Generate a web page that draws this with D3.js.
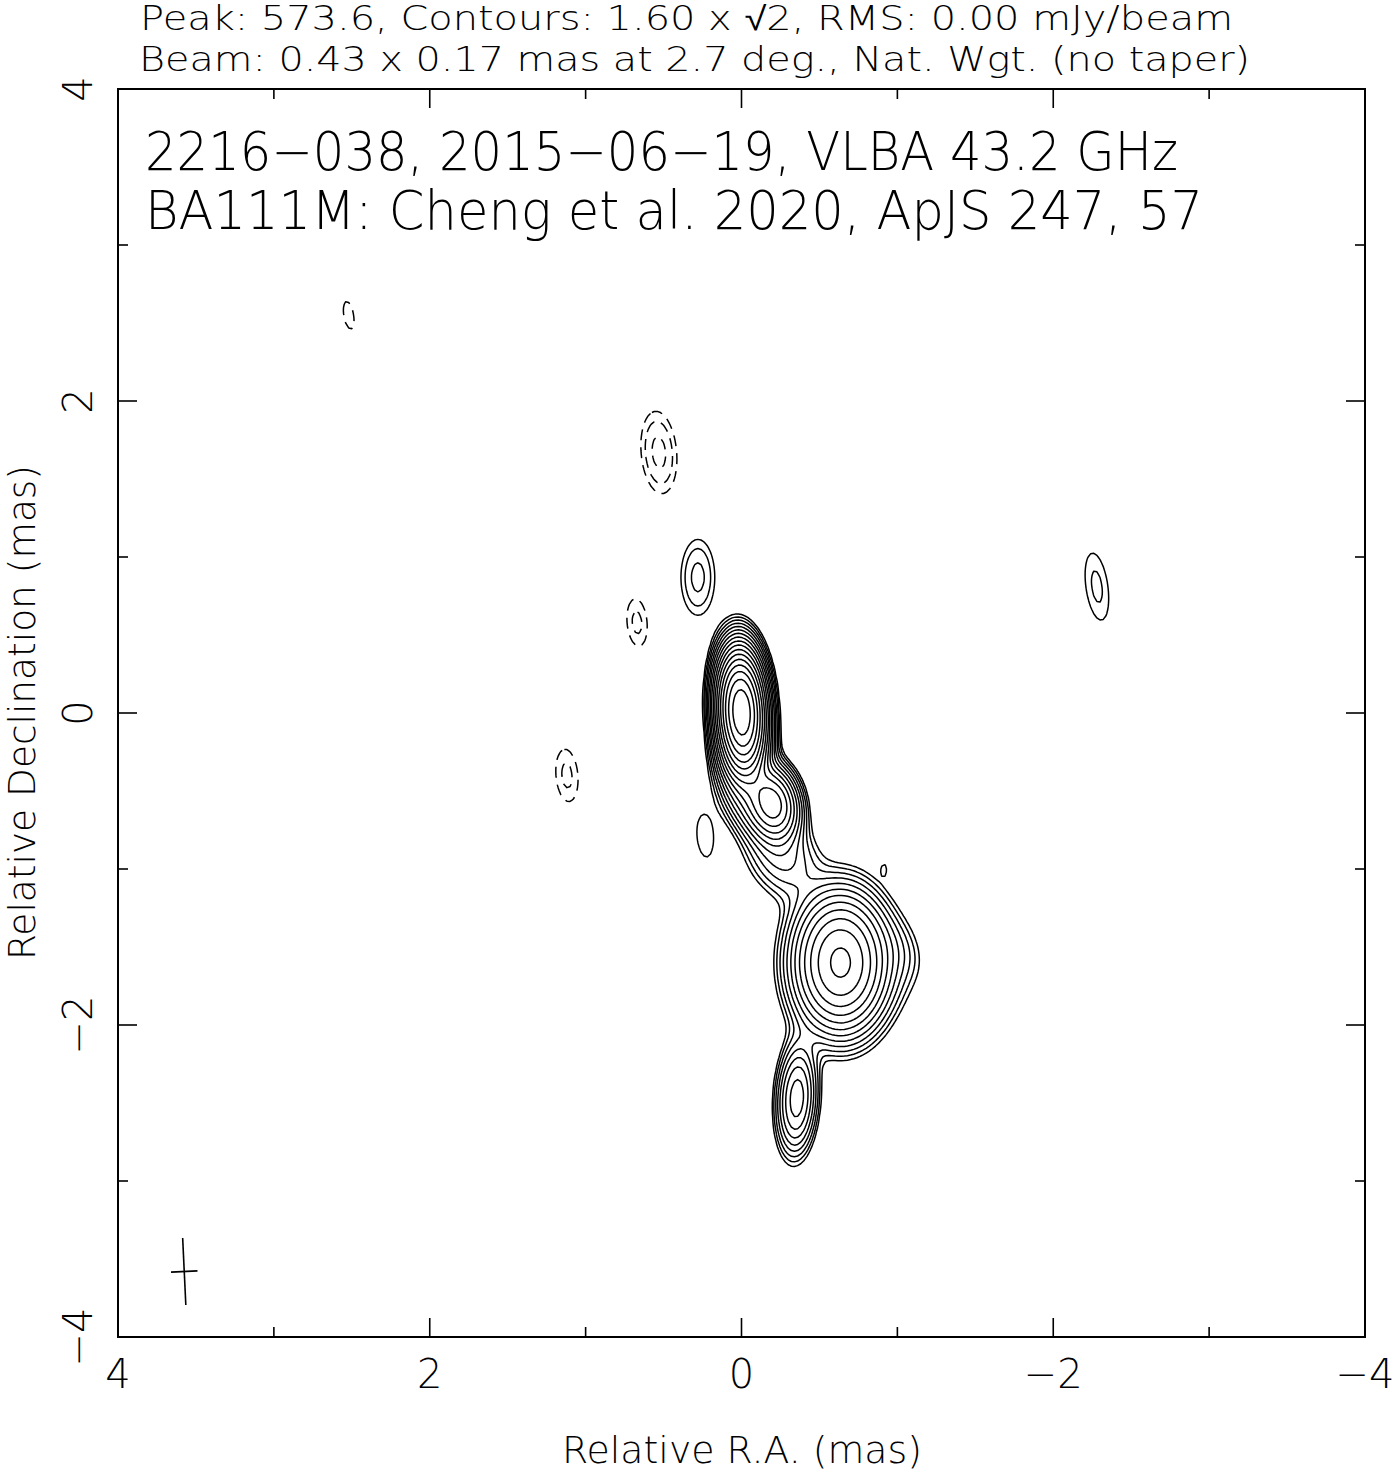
<!DOCTYPE html>
<html><head><meta charset="utf-8">
<script src="https://cdn.jsdelivr.net/npm/d3@7"></script>
<style>
body{margin:0;background:#fff}
text{font-family:"DejaVu Sans",sans-serif;font-weight:200;fill:#000}
</style>
</head><body>
<svg id="c" width="1394" height="1472"></svg>
<script>
// ---------------- data ----------------
const headerLines = ["Peak: 573.6, Contours: 1.60 x \u221A2, RMS: 0.00 mJy/beam",
                     "Beam: 0.43 x 0.17 mas at 2.7 deg., Nat. Wgt. (no taper)"];
const titleLines = ["2216\u2212038, 2015\u221206\u221219, VLBA 43.2 GHz",
                    "BA111M: Cheng et al. 2020, ApJS 247, 57"];
const xLabel = "Relative R.A. (mas)";
const yLabel = "Relative Declination (mas)";
const majorTicks = [4, 2, 0, -2, -4];
const minorTicks = [3, 1, -1, -3];
const tickLabels = ["4", "2", "0", "\u22122", "\u22124"];

// contour levels (mJy/beam): 1.60 x sqrt(2)^n
const posLevels = [1.6, 2.26, 3.2, 4.53, 6.4, 9.05, 12.8, 18.1, 25.6, 36.2, 51.2, 72.4, 102.4, 144.8, 204.8, 289.6, 409.6];
const negLevels = [1.6, 2.26, 3.2];

// image components (restored Gaussians): RA offset, Dec offset (mas), peak (mJy/beam), FWHM major/minor (mas), PA (deg)
const compX    = [0.00, -0.02, -0.04, -0.20, -0.26, -0.635, -1.00, -1.02, -0.355, 0.28, -2.28, 0.235, -0.915, 2.52, 0.53, 0.67, 1.12];
const compY    = [0.01, -0.25, -0.52, -0.58, -0.92, -1.60, -1.50, -1.62, -2.47, 0.87, 0.81, -0.79, -1.00, 2.55, 1.67, 0.58, -0.40];
const compPeak = [548, 30, 14, 60, 7, 79, 1.5, 1.2, 22, 3.6, 2.5, 2.1, 1.68, -1.75, -3.6, -2.5, -2.5];
const compMaj  = [0.43, 0.30, 0.38, 0.30, 0.40, 0.53, 0.35, 0.45, 0.45, 0.45, 0.54, 0.42, 0.10, 0.50, 0.49, 0.38, 0.42];
const compMin  = [0.17, 0.20, 0.22, 0.20, 0.30, 0.36, 0.22, 0.25, 0.16, 0.20, 0.175, 0.16, 0.05, 0.18, 0.21, 0.16, 0.175];
const compPA   = [2.7, 5, 20, 12, 30, 0, 30, 0, -3, 0, 8, 5, 0, 10, 5, 5, 5];

const beamMaj = 0.43, beamMin = 0.17, beamPA = 2.7;
const beamPos = [3.575, -3.58];

// ---------------- layout ----------------
const svg = d3.select("#c");
const L = 118, R = 1365, T = 89, B = 1337;
const xS = d3.scaleLinear().domain([4, -4]).range([L, R]);
const yS = d3.scaleLinear().domain([-4, 4]).range([B, T]);

// ---------------- field ----------------
const step = 0.02, n = Math.round(8 / step) + 1, x0 = -4, y0 = -4;
const vals = new Float64Array(n * n);
const k = 4 * Math.LN2;
for (let c = 0; c < compX.length; c++) {
  const pa = compPA[c] * Math.PI / 180, sp = Math.sin(pa), cp = Math.cos(pa);
  const a = compMaj[c], b = compMin[c];
  for (let j = 0; j < n; j++) {
    const dy = y0 + j * step - compY[c];
    if (Math.abs(dy) > 2.5 * a) continue;
    for (let i = 0; i < n; i++) {
      const dx = x0 + i * step - compX[c];
      if (Math.abs(dx) > 2.5 * a) continue;
      const u = dx * sp + dy * cp, v = dx * cp - dy * sp;
      vals[i + j * n] += compPeak[c] * Math.exp(-k * (u * u / (a * a) + v * v / (b * b)));
    }
  }
}
const negVals = vals.map(v => -v);

const proj = d3.geoTransform({
  point(px, py) { this.stream.point(xS(x0 + (px - 0.5) * step), yS(y0 + (py - 0.5) * step)); }
});
const path = d3.geoPath(proj);

const gC = svg.append("g").attr("fill", "none").attr("stroke", "#000").attr("stroke-width", 1.5)
  .attr("stroke-linejoin", "round");
gC.selectAll("path.pos").data(d3.contours().size([n, n]).thresholds(posLevels)(vals))
  .join("path").attr("class", "pos").attr("d", path);
gC.selectAll("path.neg").data(d3.contours().size([n, n]).thresholds(negLevels)(negVals))
  .join("path").attr("class", "neg").attr("d", path).attr("stroke-dasharray", "11,7");

// ---------------- beam cross ----------------
const bp = beamPA * Math.PI / 180;
const gB = svg.append("g").attr("stroke", "#000").attr("stroke-width", 1.6);
gB.append("line")
  .attr("x1", xS(beamPos[0] + beamMaj / 2 * Math.sin(bp))).attr("y1", yS(beamPos[1] + beamMaj / 2 * Math.cos(bp)))
  .attr("x2", xS(beamPos[0] - beamMaj / 2 * Math.sin(bp))).attr("y2", yS(beamPos[1] - beamMaj / 2 * Math.cos(bp)));
gB.append("line")
  .attr("x1", xS(beamPos[0] + beamMin / 2 * Math.cos(bp))).attr("y1", yS(beamPos[1] - beamMin / 2 * Math.sin(bp)))
  .attr("x2", xS(beamPos[0] - beamMin / 2 * Math.cos(bp))).attr("y2", yS(beamPos[1] + beamMin / 2 * Math.sin(bp)));

// ---------------- frame & ticks ----------------
svg.append("rect").attr("x", L).attr("y", T).attr("width", R - L).attr("height", B - T)
  .attr("fill", "none").attr("stroke", "#000").attr("stroke-width", 2);
const gT = svg.append("g").attr("stroke", "#000").attr("stroke-width", 1.6);
function ticks(vs, len) {
  vs.forEach(v => {
    gT.append("line").attr("x1", xS(v)).attr("x2", xS(v)).attr("y1", B).attr("y2", B - len);
    gT.append("line").attr("x1", xS(v)).attr("x2", xS(v)).attr("y1", T).attr("y2", T + len);
    gT.append("line").attr("y1", yS(v)).attr("y2", yS(v)).attr("x1", L).attr("x2", L + len);
    gT.append("line").attr("y1", yS(v)).attr("y2", yS(v)).attr("x1", R).attr("x2", R - len);
  });
}
ticks(majorTicks, 19);
ticks(minorTicks, 10);

majorTicks.forEach((v, i) => {
  svg.append("text").attr("x", xS(v)).attr("y", 1388).attr("text-anchor", "middle")
    .attr("font-size", 40).text(tickLabels[i]);
  svg.append("text").attr("transform", `translate(92,${yS(v)}) rotate(-90)`).attr("text-anchor", "middle")
    .attr("font-size", 40).text(tickLabels[i]);
});

// ---------------- texts ----------------
svg.append("text").attr("x", 140).attr("y", 30).attr("font-size", 33)
  .attr("textLength", 1093).attr("lengthAdjust", "spacingAndGlyphs").text(headerLines[0]);
svg.append("text").attr("x", 139).attr("y", 71).attr("font-size", 33)
  .attr("textLength", 1111).attr("lengthAdjust", "spacingAndGlyphs").text(headerLines[1]);
svg.append("text").attr("x", 145).attr("y", 170).attr("font-size", 53)
  .attr("textLength", 1033).attr("lengthAdjust", "spacingAndGlyphs").text(titleLines[0]);
svg.append("text").attr("x", 145).attr("y", 229).attr("font-size", 53)
  .attr("textLength", 1058).attr("lengthAdjust", "spacingAndGlyphs").text(titleLines[1]);
svg.append("text").attr("x", 562).attr("y", 1463).attr("font-size", 38)
  .attr("textLength", 360).attr("lengthAdjust", "spacingAndGlyphs").text(xLabel);
svg.append("text").attr("transform", "translate(35,960) rotate(-90)").attr("font-size", 38)
  .attr("textLength", 495).attr("lengthAdjust", "spacingAndGlyphs").text(yLabel);
</script>
</body></html>
